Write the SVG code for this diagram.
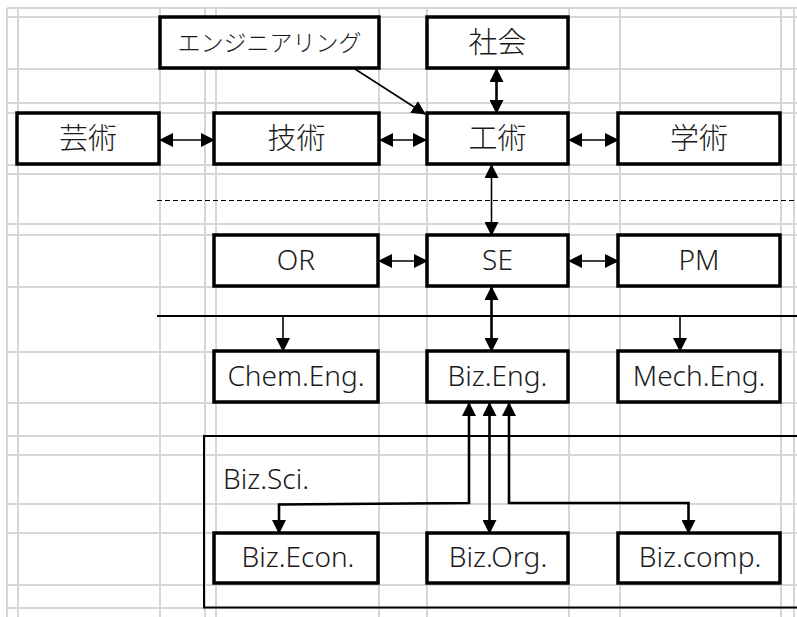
<svg xmlns="http://www.w3.org/2000/svg" width="797" height="617" viewBox="0 0 797 617">
  <style>
    .grid line { stroke: #d6d6d6; stroke-width: 2; }
    .box { fill: #ffffff; stroke: #000000; stroke-width: 3.5; }
    .lbl { font-family: "Noto Sans", "Noto Sans CJK JP", sans-serif; font-size: 28px; font-weight: 300; fill: #1a1a1a; text-anchor: middle; }
    .jp { font-family: "Noto Sans CJK JP", sans-serif; font-size: 29px; font-weight: 300; fill: #1a1a1a; text-anchor: middle; }
    .conn { fill: none; stroke: #000000; stroke-width: 1.6; }
    .thick { stroke-width: 2.6; }
  </style>
  <defs>
    <marker id="ah" markerUnits="userSpaceOnUse" markerWidth="14" markerHeight="14" viewBox="0 0 14 14" refX="13" refY="7" orient="auto-start-reverse">
      <path d="M0,0 L14,7 L0,14 z" fill="#000000"/>
    </marker>
  </defs>
  <rect x="0" y="0" width="797" height="617" fill="#ffffff"/>
  <g class="grid">
    <line x1="7" y1="8" x2="7" y2="617"/>
    <line x1="18" y1="8" x2="18" y2="617"/>
    <line x1="160" y1="8" x2="160" y2="617"/>
    <line x1="205" y1="8" x2="205" y2="617"/>
    <line x1="216" y1="8" x2="216" y2="617"/>
    <line x1="379" y1="8" x2="379" y2="617"/>
    <line x1="427" y1="8" x2="427" y2="617"/>
    <line x1="569" y1="8" x2="569" y2="617"/>
    <line x1="620" y1="8" x2="620" y2="617"/>
    <line x1="781" y1="8" x2="781" y2="617"/>
    <line x1="794" y1="8" x2="794" y2="617"/>
    <line x1="7" y1="8" x2="797" y2="8"/>
    <line x1="7" y1="17" x2="797" y2="17"/>
    <line x1="7" y1="69" x2="797" y2="69"/>
    <line x1="7" y1="103" x2="797" y2="103"/>
    <line x1="7" y1="113" x2="797" y2="113"/>
    <line x1="7" y1="165" x2="797" y2="165"/>
    <line x1="7" y1="174" x2="797" y2="174"/>
    <line x1="7" y1="224" x2="797" y2="224"/>
    <line x1="7" y1="235" x2="797" y2="235"/>
    <line x1="7" y1="287" x2="797" y2="287"/>
    <line x1="7" y1="352" x2="797" y2="352"/>
    <line x1="7" y1="403" x2="797" y2="403"/>
    <line x1="7" y1="436" x2="797" y2="436"/>
    <line x1="7" y1="455" x2="797" y2="455"/>
    <line x1="7" y1="504" x2="797" y2="504"/>
    <line x1="7" y1="533" x2="797" y2="533"/>
    <line x1="7" y1="585" x2="797" y2="585"/>
    <line x1="7" y1="608" x2="797" y2="608"/>
  </g>

  <g id="separators">
    <line x1="157" y1="200.5" x2="797" y2="200.5" stroke="#000" stroke-width="1.2" stroke-dasharray="5,3"/>
    <line x1="157" y1="316" x2="797" y2="316" stroke="#000" stroke-width="2"/>
  </g>

  <g id="bizsci">
    <rect x="204" y="436" width="620" height="171.5" fill="none" stroke="#000" stroke-width="2"/>
    <text class="lbl" x="223" y="489" style="text-anchor:start">Biz.Sci.</text>
  </g>

  <g id="connectors">
    <line class="conn" x1="160" y1="140" x2="214" y2="140" marker-start="url(#ah)" marker-end="url(#ah)"/>
    <line class="conn" x1="380" y1="140" x2="426" y2="140" marker-start="url(#ah)" marker-end="url(#ah)"/>
    <line class="conn" x1="569" y1="140" x2="618" y2="140" marker-start="url(#ah)" marker-end="url(#ah)"/>
    <line class="conn thick" x1="496.5" y1="69" x2="496.5" y2="113" marker-start="url(#ah)" marker-end="url(#ah)"/>
    <line class="conn" x1="355" y1="69" x2="425" y2="114" marker-end="url(#ah)"/>
    <line class="conn" x1="491.5" y1="165" x2="491.5" y2="235" marker-start="url(#ah)" marker-end="url(#ah)"/>
    <line class="conn" x1="379" y1="261" x2="427" y2="261" marker-start="url(#ah)" marker-end="url(#ah)"/>
    <line class="conn" x1="569" y1="261" x2="618" y2="261" marker-start="url(#ah)" marker-end="url(#ah)"/>
    <line class="conn thick" x1="491.5" y1="287" x2="491.5" y2="351" marker-start="url(#ah)" marker-end="url(#ah)"/>
    <line class="conn" x1="283" y1="317" x2="283" y2="351" marker-end="url(#ah)"/>
    <line class="conn" x1="680" y1="317" x2="680" y2="351" marker-end="url(#ah)"/>
    <polyline class="conn thick" points="469,403 469,503 279,504.5 279,533" marker-start="url(#ah)" marker-end="url(#ah)"/>
    <line class="conn thick" x1="489.5" y1="403" x2="489.5" y2="533" marker-start="url(#ah)" marker-end="url(#ah)"/>
    <polyline class="conn thick" points="509,403 509,503 688.5,503 688.5,533" marker-start="url(#ah)" marker-end="url(#ah)"/>
  </g>

  <g id="engineering">
    <rect class="box" x="160" y="17" width="219" height="51"/>
    <text class="jp" x="269.5" y="50.5" style="font-size:23px">エンジニアリング</text>
  </g>
  <g id="shakai">
    <rect class="box" x="427" y="17" width="141" height="51"/>
    <text class="jp" x="497.5" y="53">社会</text>
  </g>
  <g id="geijutsu">
    <rect class="box" x="17" y="113" width="142" height="51"/>
    <text class="jp" x="88" y="148.5">芸術</text>
  </g>
  <g id="gijutsu">
    <rect class="box" x="214" y="113" width="165" height="51"/>
    <text class="jp" x="296.5" y="148.5">技術</text>
  </g>
  <g id="kojutsu">
    <rect class="box" x="427" y="113" width="141" height="51"/>
    <text class="jp" x="497.5" y="148.5">工術</text>
  </g>
  <g id="gakujutsu">
    <rect class="box" x="618" y="113" width="162" height="51"/>
    <text class="jp" x="699" y="148.5">学術</text>
  </g>
  <g id="or">
    <rect class="box" x="214" y="235" width="164" height="51"/>
    <text class="lbl" x="296" y="270">OR</text>
  </g>
  <g id="se">
    <rect class="box" x="427" y="235" width="141" height="51"/>
    <text class="lbl" x="497.5" y="270">SE</text>
  </g>
  <g id="pm">
    <rect class="box" x="618" y="235" width="162" height="51"/>
    <text class="lbl" x="699" y="270">PM</text>
  </g>
  <g id="chemeng">
    <rect class="box" x="214" y="351" width="164" height="51"/>
    <text class="lbl" x="296" y="385.5">Chem.Eng.</text>
  </g>
  <g id="bizeng">
    <rect class="box" x="427" y="351" width="141" height="51"/>
    <text class="lbl" x="497.5" y="385.5">Biz.Eng.</text>
  </g>
  <g id="mecheng">
    <rect class="box" x="618" y="351" width="162" height="51"/>
    <text class="lbl" x="699" y="385.5">Mech.Eng.</text>
  </g>
  <g id="bizecon">
    <rect class="box" x="214" y="533" width="164" height="50"/>
    <text class="lbl" x="298" y="567">Biz.Econ.</text>
  </g>
  <g id="bizorg">
    <rect class="box" x="427" y="533" width="141" height="50"/>
    <text class="lbl" x="498" y="567">Biz.Org.</text>
  </g>
  <g id="bizcomp">
    <rect class="box" x="618" y="533" width="162" height="50"/>
    <text class="lbl" x="700" y="567">Biz.comp.</text>
  </g>
</svg>
